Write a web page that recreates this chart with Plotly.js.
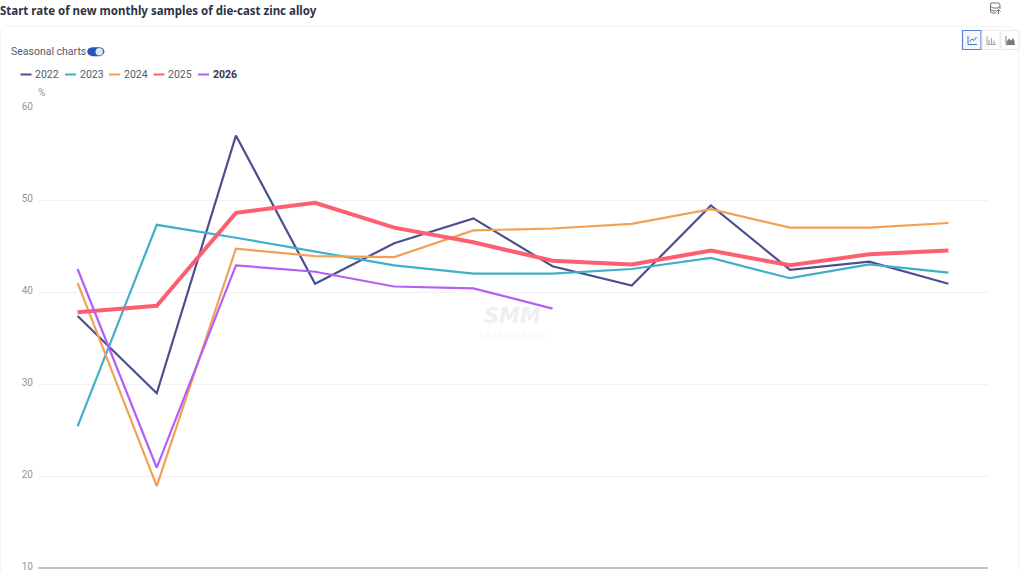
<!DOCTYPE html>
<html><head><meta charset="utf-8">
<script src="https://cdn.plot.ly/plotly-3.0.1.min.js"></script>
<style>html,body{margin:0;padding:0;background:#fff;overflow:hidden}#c{width:1024px;height:571px}</style>
</head><body><div id="c"></div>
<script>
const months = ['01','02','03','04','05','06','07','08','09','10','11','12'];
const years = ['2022','2023','2024','2025','2026'];
const v2022 = [37.4,29.0,57.0,40.9,45.3,48.0,42.8,40.7,49.4,42.4,43.3,40.9];
const v2023 = [25.4,47.3,45.9,44.4,42.9,42.0,42.0,42.5,43.7,41.5,43.0,42.1];
const v2024 = [41.0,18.9,44.7,43.9,43.8,46.7,46.9,47.4,49.0,47.0,47.0,47.5];
const v2025 = [37.8,38.5,48.6,49.7,47.0,45.4,43.4,43.0,44.5,42.9,44.1,44.5];
const v2026 = [42.5,20.9,42.9,42.2,40.6,40.4,38.2];
const seriesValues = [v2022,v2023,v2024,v2025,v2026];
const colors = ['#4b4f8e','#3fb0c8','#f2a154','#fd5f72','#b25ff5'];
const widths = [2.2,2.2,2.2,4,2.2];
const titleText = 'Start rate of new monthly samples of die-cast zinc alloy';
const toggleLabel = 'Seasonal charts';
const unitLabel = '%';
const yTicks = [10,20,30,40,50,60];

const W=1024,H=571, FONT='"Noto Sans", sans-serif', SMALL='Roboto, sans-serif';
const px=x=>x/W, py=y=>1-y/H;
const traces = years.map((y,i)=>({type:'scatter',mode:'lines',name:y,x:months.slice(0,seriesValues[i].length),y:seriesValues[i],
  line:{color:colors[i],width:widths[i],shape:'linear'},hoverinfo:'x+y+name'}));

const rect=(x0,y0,x1,y1,o)=>Object.assign({type:'rect',xref:'paper',yref:'paper',x0:px(x0),x1:px(x1),y0:py(y0),y1:py(y1),layer:'below',line:{width:0}},o);
const pth=(d,o)=>Object.assign({type:'path',xref:'paper',yref:'paper',path:d,layer:'above',line:{width:1,color:'#888'}},o);
const P=(pts)=>pts.map((p,i)=>(i?'L':'M')+px(p[0]).toFixed(5)+','+py(p[1]).toFixed(5)).join(' ');
const ann=(x,y,t,o)=>Object.assign({xref:'paper',yref:'paper',x:px(x),y:py(y),text:t,showarrow:false,xanchor:'left',yanchor:'middle',borderpad:0,font:{family:SMALL,size:11,color:'#555a66'}},o);

const shapes=[
 // card
 pth(P([[0.5,571],[0.5,32],[6,26.5],[1012,26.5],[1018.5,32],[1018.5,571]]),{layer:'below',line:{width:1,color:'#f1f1f6'}}),
 // toggle
 pth(P([[92,47.2],[100,47.2],[103,48.5],[104.6,51.5],[103,54.7],[100,56.2],[92,56.2],[88.5,54.7],[87,51.5],[88.5,48.5],[92,47.2]])+' Z',{fillcolor:'#2554b4',line:{width:0}}),
 {type:'circle',xref:'paper',yref:'paper',x0:px(95.5),x1:px(103),y0:py(48),y1:py(55.5),fillcolor:'#dfe3ea',line:{width:0}},
 // chart-type buttons
 rect(962.5,30.5,981,49.5,{layer:'above',fillcolor:'#f4f7fd',line:{width:1.2,color:'#5c83cf'}}),
 rect(982,30.5,1000,49.5,{layer:'above',fillcolor:'#fff',line:{width:1,color:'#e8e8ec'}}),
 rect(1001,30.5,1019,49.5,{layer:'above',fillcolor:'#fff',line:{width:1,color:'#e8e8ec'}}),
 // icons
 pth(P([[968,36],[968,44.5],[977,44.5]]),{line:{width:1,color:'#4a72c4'}}),
 pth(P([[969.5,42],[972,39],[974,40.5],[976.5,37]]),{line:{width:1,color:'#4a72c4'}}),
 pth(P([[987,36],[987,44.5],[996,44.5]]),{line:{width:1,color:'#a8a8ae'}}),
 pth(P([[989,44],[989,40]])+' '+P([[991.5,44],[991.5,38]])+' '+P([[994,44],[994,40.5]]),{line:{width:1.2,color:'#a8a8ae'}}),
 pth(P([[1006,36],[1006,44.5],[1015,44.5]]),{line:{width:1,color:'#777780'}}),
 pth(P([[1007,44],[1007,41],[1009,38.5],[1011,40.5],[1013,38],[1014.5,41],[1014.5,44]])+' Z',{fillcolor:'#777780',line:{width:0}}),
 // export icon
 pth(P([[991,3],[999,3],[1000,5],[1000,9]])+' '+P([[991,3],[990.5,5],[990.5,12],[993,13],[996,13]])+' '+P([[990.5,6.5],[993,8],[998,8],[1000,6.5]])+' '+P([[990.5,9.5],[993,10.8],[996,10.8]]),{line:{width:1,color:'#6d7280'}}),
 pth(P([[998.5,14],[998.5,9.5]])+' '+P([[996.5,11.5],[998.5,9.5],[1000.5,11.5]]),{line:{width:1,color:'#6d7280'}}),
];
// legend keys
const lx=[20.5,65,109,153.5,198];
years.forEach((y,i)=>shapes.push(pth(P([[lx[i],74.5],[lx[i]+11,74.5]]),{line:{width:2,color:colors[i]}})));

const annotations=[
 ann(-1,10,'<b>'+titleText+'</b>',{font:{family:FONT,size:11.5,color:'#2f3344'}}),
 ann(10,51.5,toggleLabel,{font:{family:SMALL,size:10.5,color:'#555a66'}}),
 ann(37,93,unitLabel,{font:{family:SMALL,size:10,color:'#9a9aa2'}}),
 ann(512,315.5,'<b><i>SMM</i></b>',{xanchor:'center',font:{family:'"DejaVu Sans", sans-serif',size:21,color:'#efeff2'}}),
 ann(512,336,'18753563933',{xanchor:'center',font:{family:SMALL,size:11,color:'#f6f6f8'}}),
];
years.forEach((y,i)=>annotations.push(ann(lx[i]+13.5,74.5,i===4?'<b>'+y+'</b>':y,{font:{family:SMALL,size:10.5,color:i===4?'#333748':'#555a66'}})));

Plotly.newPlot('c',traces,{
 width:W,height:H,showlegend:false,paper_bgcolor:'#fff',plot_bgcolor:'#fff',
 margin:{l:0,r:0,t:0,b:0,pad:0},
 font:{family:FONT},
 xaxis:{domain:[px(38),px(988)],type:'category',categoryorder:'array',categoryarray:months,range:[-0.5,11.5],showgrid:false,zeroline:false,showticklabels:false,ticks:'',showline:false},
 yaxis:{domain:[py(568),py(108)],range:[10,60],tickvals:yTicks,ticktext:yTicks.map(String),showgrid:true,gridcolor:'#f1f1f7',gridwidth:1,zeroline:false,showline:false,ticks:'',ticklabelstandoff:4,ticklabelshift:-2,ticklabeloverflow:'allow',tickfont:{family:SMALL,size:10,color:'#94949c'}},
 shapes:shapes.concat([{type:'line',xref:'paper',yref:'paper',x0:px(38),x1:px(988),y0:py(568),y1:py(568),layer:'above',line:{width:1.5,color:'#aeaeb4'}}]),
 annotations:annotations
},{displayModeBar:false});
</script></body></html>
